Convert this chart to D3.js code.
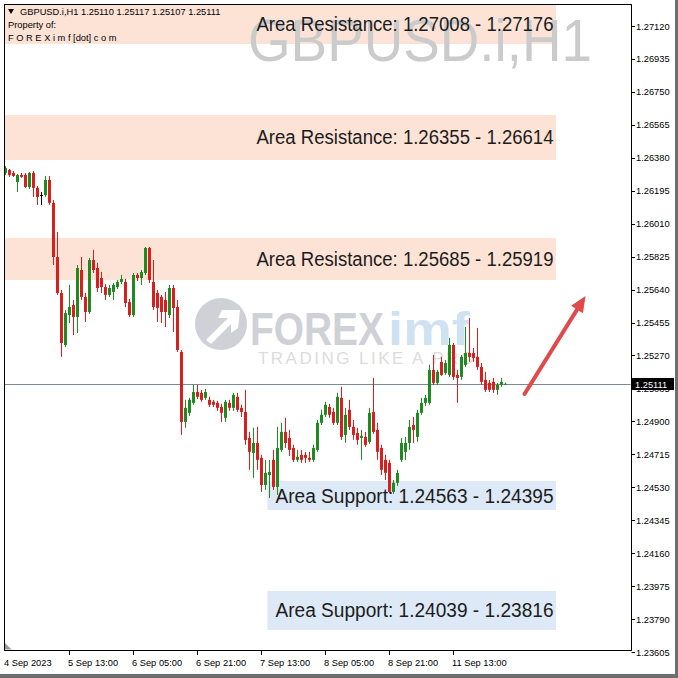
<!DOCTYPE html>
<html><head><meta charset="utf-8">
<script src="https://cdn.jsdelivr.net/npm/d3@7"></script>
<style>
html,body{margin:0;padding:0;background:#fff;}
svg{display:block;}
text{font-family:"Liberation Sans",Arial,sans-serif;}
</style></head>
<body><svg id="c" width="678" height="678"></svg>
<script>
// ---------- DATA ----------
const symbol = "GBPUSD.i,H1";
const headerPrices = "1.25110 1.25117 1.25107 1.25111";
const lastPrice = 1.25111;
const priceTicks = [1.27120,1.26935,1.26750,1.26565,1.26380,1.26195,1.26010,1.25825,1.25640,1.25455,1.25270,1.25085,1.24900,1.24715,1.24530,1.24345,1.24160,1.23975,1.23790,1.23605];
const timeTickIndex = [0,16,32,48,64,80,96,112];
const timeTickLabels = ["4 Sep 2023","5 Sep 13:00","6 Sep 05:00","6 Sep 21:00","7 Sep 13:00","8 Sep 05:00","8 Sep 21:00","11 Sep 13:00"];

const opens = [1.26295,1.26312,1.26295,1.26244,1.26284,1.26284,1.26216,1.26295,1.26211,1.26171,1.26171,1.26256,1.26127,1.25823,1.25621,1.25329,1.25497,1.25553,1.25486,1.25750,1.25599,1.25514,1.25806,1.25761,1.25705,1.25654,1.25610,1.25627,1.25654,1.25683,1.25683,1.25570,1.25497,1.25722,1.25705,1.25733,1.25874,1.25683,1.25621,1.25599,1.25582,1.25497,1.25649,1.25542,1.25290,1.24897,1.24948,1.25004,1.25065,1.25060,1.25032,1.25021,1.25010,1.25004,1.24981,1.24920,1.25004,1.24976,1.25038,1.24976,1.24953,1.24807,1.24723,1.24779,1.24695,1.24543,1.24599,1.24684,1.24532,1.24740,1.24841,1.24807,1.24751,1.24684,1.24712,1.24712,1.24695,1.24684,1.24740,1.24892,1.24937,1.24981,1.24953,1.24892,1.25032,1.24824,1.24965,1.24869,1.24835,1.24807,1.24813,1.24785,1.24953,1.24852,1.24751,1.24684,1.24667,1.24504,1.24555,1.24684,1.24729,1.24779,1.24880,1.24813,1.24948,1.25004,1.25004,1.25189,1.25116,1.25234,1.25172,1.25161,1.25329,1.25161,1.25150,1.25217,1.25284,1.25284,1.25262,1.25206,1.25133,1.25116,1.25122,1.25077,1.25105,1.25110];
const highs = [1.26334,1.26317,1.26306,1.26289,1.26295,1.26295,1.26301,1.26306,1.26222,1.26188,1.26278,1.26278,1.26143,1.25964,1.25638,1.25525,1.25666,1.25582,1.25778,1.25823,1.25621,1.25818,1.25863,1.25790,1.25739,1.25671,1.25666,1.25677,1.25694,1.25722,1.25700,1.25587,1.25733,1.25733,1.25750,1.25879,1.25879,1.25806,1.25638,1.25610,1.25627,1.25666,1.25666,1.25582,1.25301,1.25021,1.25032,1.25105,1.25105,1.25077,1.25082,1.25038,1.25021,1.25015,1.24998,1.25021,1.25021,1.25060,1.25060,1.24993,1.25077,1.24841,1.24864,1.24869,1.24712,1.24684,1.24684,1.24740,1.24869,1.24892,1.24920,1.24852,1.24768,1.24740,1.24740,1.24729,1.24729,1.24768,1.24908,1.24965,1.25010,1.24998,1.24976,1.25060,1.25094,1.24976,1.25021,1.24908,1.24864,1.24852,1.24841,1.24976,1.25144,1.24892,1.24768,1.24712,1.24684,1.24571,1.24628,1.24807,1.24813,1.24908,1.24925,1.24965,1.25032,1.25049,1.25217,1.25273,1.25189,1.25262,1.25245,1.25369,1.25340,1.25189,1.25273,1.25430,1.25480,1.25312,1.25425,1.25228,1.25178,1.25133,1.25144,1.25116,1.25144,1.25117];
const lows = [1.26284,1.26273,1.26273,1.26188,1.26267,1.26211,1.26205,1.26160,1.26115,1.26115,1.26160,1.26115,1.25778,1.25610,1.25262,1.25317,1.25452,1.25385,1.25396,1.25582,1.25458,1.25503,1.25733,1.25627,1.25621,1.25582,1.25599,1.25582,1.25643,1.25671,1.25542,1.25486,1.25486,1.25688,1.25666,1.25722,1.25677,1.25525,1.25458,1.25452,1.25430,1.25480,1.25402,1.25290,1.24824,1.24864,1.24931,1.24993,1.25026,1.25010,1.25021,1.24981,1.24981,1.24959,1.24897,1.24897,1.24959,1.24959,1.24953,1.24925,1.24768,1.24628,1.24583,1.24628,1.24504,1.24515,1.24470,1.24515,1.24487,1.24729,1.24751,1.24706,1.24672,1.24672,1.24667,1.24667,1.24672,1.24672,1.24729,1.24880,1.24925,1.24920,1.24880,1.24880,1.24796,1.24779,1.24852,1.24796,1.24768,1.24684,1.24757,1.24774,1.24830,1.24684,1.24599,1.24571,1.24498,1.24493,1.24538,1.24672,1.24684,1.24740,1.24779,1.24785,1.24937,1.24987,1.24993,1.25105,1.25105,1.25155,1.25161,1.25150,1.25133,1.25004,1.25133,1.25206,1.25234,1.25234,1.25189,1.25105,1.25065,1.25065,1.25060,1.25049,1.25094,1.25107];
const closes = [1.26323,1.26284,1.26278,1.26284,1.26273,1.26216,1.26295,1.26211,1.26160,1.26171,1.26256,1.26127,1.25823,1.25621,1.25340,1.25508,1.25542,1.25486,1.25761,1.25599,1.25514,1.25806,1.25750,1.25649,1.25654,1.25610,1.25649,1.25666,1.25683,1.25700,1.25565,1.25497,1.25722,1.25705,1.25739,1.25874,1.25694,1.25542,1.25537,1.25514,1.25514,1.25649,1.25537,1.25301,1.24897,1.24976,1.25021,1.25065,1.25038,1.25021,1.25065,1.24993,1.24993,1.24976,1.24948,1.25010,1.24976,1.25049,1.24965,1.24953,1.24796,1.24729,1.24779,1.24684,1.24543,1.24611,1.24616,1.24532,1.24751,1.24841,1.24779,1.24740,1.24684,1.24701,1.24684,1.24695,1.24684,1.24751,1.24892,1.24937,1.24993,1.24937,1.24892,1.25038,1.24813,1.24937,1.24869,1.24824,1.24796,1.24819,1.24768,1.24948,1.24841,1.24729,1.24628,1.24611,1.24504,1.24555,1.24611,1.24779,1.24779,1.24869,1.24852,1.24948,1.25004,1.25032,1.25189,1.25116,1.25178,1.25161,1.25228,1.25329,1.25150,1.25144,1.25262,1.25284,1.25262,1.25256,1.25206,1.25122,1.25077,1.25077,1.25077,1.25105,1.25122,1.25111];

// zones: label text, drawn top / bottom price, start / end bar index
const zoneLabels = ["Area Resistance: 1.27008 - 1.27176","Area Resistance: 1.26355 - 1.26614","Area Resistance: 1.25685 - 1.25919","Area Support: 1.24563 - 1.24395","Area Support: 1.24039 - 1.23816"];
const zoneTop = [1.27238,1.26620,1.25930,1.24565,1.23948];
const zoneBottom = [1.27019,1.26368,1.25694,1.24402,1.23729];
const zoneStart = [-0.25,-0.25,-0.25,65.6,65.6];
const zoneEnd = [137.75,137.75,137.75,137.75,137.75];
const zoneKind = ["res","res","res","sup","sup"];

// arrow: [bar index, price]
const arrowFrom = [129.75, 1.25054];
const arrowTo = [145, 1.25604];

// ---------- DRAW ----------
const svg = d3.select("#c");
const L = 4, R = 631, T = 4, B = 650;
const x = d3.scaleLinear().domain([0, 156.5]).range([5.5, 631.5]);
const y = d3.scaleLinear().domain([1.23605, 1.27120]).range([652, 26]);
const bull = "#1f8a1f", bear = "#d91e1e";

svg.append("rect").attr("width",678).attr("height",678).attr("fill","#fff");
svg.append("defs").append("clipPath").attr("id","pc").append("rect")
  .attr("x",L+0.5).attr("y",T+0.5).attr("width",R-L-1).attr("height",B-T-1);
const plot = svg.append("g").attr("clip-path","url(#pc)");

// zones
const zones = zoneLabels.map((t,i)=>({t,top:zoneTop[i],bot:zoneBottom[i],s:zoneStart[i],e:zoneEnd[i],k:zoneKind[i]}));
plot.selectAll("rect.zone").data(zones).join("rect").attr("class","zone")
  .attr("x",d=>x(d.s)-0.5).attr("width",d=>x(d.e)-x(d.s))
  .attr("y",d=>y(d.top)).attr("height",d=>y(d.bot)-y(d.top))
  .attr("fill",d=>d.k==="res"?"#fce3d6":"#dde9f6");

// big watermark symbol
plot.append("text").attr("x",248).attr("y",61)
  .attr("font-size",60).attr("fill","#cbcbcb")
  .attr("textLength",344).attr("lengthAdjust","spacingAndGlyphs").text(symbol);

// FOREXimf logo watermark
const lg = plot.append("g").attr("opacity",0.55);
lg.append("circle").attr("cx",221).attr("cy",324).attr("r",26).attr("fill","#a9adb8");
lg.append("path").attr("d","M206,340 L228,318 L218,318 L222,310 L240,310 L238,328 L231,333 L231,324 L211,344 Z").attr("fill","#fff");
lg.append("text").attr("x",250).attr("y",345).attr("font-size",46).attr("font-weight","bold")
  .attr("fill","#a9adb8").attr("textLength",134).attr("lengthAdjust","spacingAndGlyphs").text("FOREX");
lg.append("text").attr("x",388).attr("y",345).attr("font-size",46).attr("font-weight","bold")
  .attr("fill","#a8cbe6").attr("textLength",82).attr("lengthAdjust","spacingAndGlyphs").text("imf");
plot.append("text").attr("x",258).attr("y",364).attr("font-size",17)
  .attr("fill","#dcdcdc").attr("textLength",216).text("TRADING LIKE A PRO");

// current price line
plot.append("line").attr("x1",L).attr("x2",R).attr("y1",Math.round(y(lastPrice))+0.5).attr("y2",Math.round(y(lastPrice))+0.5)
  .attr("stroke","#7a8a96").attr("stroke-width",1);

// candles
const candles = opens.map((o,i)=>({i,o,h:highs[i],l:lows[i],c:closes[i]}));
const cg = plot.append("g");
cg.selectAll("line.w").data(candles).join("line").attr("class","w")
  .attr("x1",d=>Math.floor(x(d.i))+0.5).attr("x2",d=>Math.floor(x(d.i))+0.5)
  .attr("y1",d=>y(d.h)).attr("y2",d=>y(d.l))
  .attr("stroke",d=>d.c>d.o?bull:(d.c<d.o?bear:"#000")).attr("stroke-width",1);
cg.selectAll("rect.b").data(candles).join("rect").attr("class","b")
  .attr("x",d=>Math.floor(x(d.i))-1).attr("width",3)
  .attr("y",d=>y(Math.max(d.o,d.c))).attr("height",d=>Math.max(1,Math.abs(y(d.o)-y(d.c))))
  .attr("fill",d=>d.c>d.o?bull:(d.c<d.o?bear:"#000"));

// zone labels
const zoneTextLen = {res:297, sup:278};
plot.selectAll("text.zl").data(zones).join("text").attr("class","zl")
  .attr("x",d=>x(d.e)-3-zoneTextLen[d.k]).attr("y",d=>(y(d.top)+y(d.bot))/2+7)
  .attr("font-size",19.5).attr("fill","#1c1c1c")
  .attr("textLength",d=>zoneTextLen[d.k]).attr("lengthAdjust","spacingAndGlyphs").text(d=>d.t);

// arrow
const ax1=x(arrowFrom[0]), ay1=y(arrowFrom[1]), ax2=x(arrowTo[0]), ay2=y(arrowTo[1]);
const ang=Math.atan2(ay2-ay1, ax2-ax1);
const hl=16, hw=7;
const bx=ax2-hl*Math.cos(ang), by=ay2-hl*Math.sin(ang);
plot.append("line").attr("x1",ax1).attr("y1",ay1).attr("x2",bx).attr("y2",by)
  .attr("stroke","#e04a4a").attr("stroke-width",4).attr("stroke-linecap","round");
plot.append("path").attr("d",`M${ax2},${ay2} L${bx+hw*Math.sin(ang)},${by-hw*Math.cos(ang)} L${bx-hw*Math.sin(ang)},${by+hw*Math.cos(ang)} Z`)
  .attr("fill","#e04a4a");

// header text
plot.append("path").attr("d","M8,9 L14,9 L11,14 Z").attr("fill","#000");
plot.append("text").attr("x",20).attr("y",15).attr("font-size",9.3).attr("fill","#000")
  .text(symbol+"  "+headerPrices);
plot.append("text").attr("x",8).attr("y",28).attr("font-size",9.3).attr("fill","#000").text("Property of:");
plot.append("text").attr("x",8).attr("y",41).attr("font-size",9.3).attr("fill","#000").text("F O R E X i m f [dot] c o m");

// shift marker
plot.append("path").attr("d",`M${L+1},${B-7} L${L+1},${B} L${L+8},${B} Z`).attr("fill","#999");

// frame
svg.append("rect").attr("x",L+0.5).attr("y",T+0.5).attr("width",R-L).attr("height",B-T)
  .attr("fill","none").attr("stroke","#000");

// price axis
const pa = svg.append("g");
pa.selectAll("line").data(priceTicks).join("line")
  .attr("x1",R+0.5).attr("x2",R+4).attr("y1",d=>Math.round(y(d))+0.5).attr("y2",d=>Math.round(y(d))+0.5).attr("stroke","#000");
pa.selectAll("text").data(priceTicks).join("text")
  .attr("x",R+5).attr("y",d=>y(d)+3.5).attr("font-size",9.3).attr("fill","#000").text(d=>d.toFixed(5));
// current price label
svg.append("rect").attr("x",R+1).attr("y",Math.round(y(lastPrice))-6).attr("width",42).attr("height",12).attr("fill","#000");
svg.append("text").attr("x",R+4).attr("y",Math.round(y(lastPrice))+4).attr("font-size",9.3).attr("fill","#fff").text(lastPrice.toFixed(5));

// time axis
const ta = svg.append("g");
ta.selectAll("line").data(timeTickIndex.slice(1)).join("line")
  .attr("x1",d=>Math.floor(x(d))+0.5).attr("x2",d=>Math.floor(x(d))+0.5).attr("y1",B).attr("y2",B+5).attr("stroke","#000");
ta.selectAll("text").data(timeTickIndex).join("text")
  .attr("x",(d,i)=>i===0?L:Math.floor(x(d))-1).attr("y",B+16).attr("font-size",9.3).attr("fill","#000")
  .text((d,i)=>timeTickLabels[i]);

// window border
svg.append("rect").attr("x",0).attr("y",674).attr("width",678).attr("height",4).attr("fill","#6e6e6e");
svg.append("rect").attr("x",675).attr("y",0).attr("width",3).attr("height",678).attr("fill","#6e6e6e");
</script></body></html>
